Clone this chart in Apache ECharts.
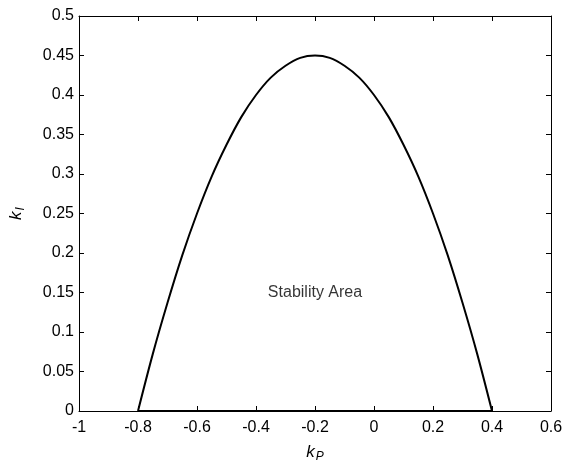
<!DOCTYPE html>
<html>
<head>
<meta charset="utf-8">
<script src="https://cdn.jsdelivr.net/npm/echarts@6/dist/echarts.min.js"></script>
<style>
  html, body { margin: 0; padding: 0; background: #fff; }
  #chart { width: 563px; height: 462px; }
</style>
</head>
<body>
<div id="chart"></div>
<script>
// boundary of the stability region
let kP = [-0.8, -0.75, -0.7, -0.65, -0.6, -0.55, -0.5, -0.45, -0.4, -0.35, -0.3, -0.25, -0.2,
          -0.15, -0.1, -0.05, 0, 0.05, 0.1, 0.15, 0.2, 0.25, 0.3, 0.35, 0.4];
let kI = [0, 0.072, 0.137, 0.197, 0.25, 0.297, 0.337, 0.372, 0.4, 0.422, 0.437, 0.447, 0.45,
          0.447, 0.437, 0.422, 0.4, 0.372, 0.337, 0.297, 0.25, 0.197, 0.137, 0.072, 0];
// lower edge along kI = 0
let baseP = [-0.8, 0.4];
let baseI = [0, 0];
let xTicks = [-1, -0.8, -0.6, -0.4, -0.2, 0, 0.2, 0.4, 0.6];
let yTicks = [0, 0.05, 0.1, 0.15, 0.2, 0.25, 0.3, 0.35, 0.4, 0.45, 0.5];
let areaLabel = {x: -0.2, y: 0.15, text: 'Stability Area'};

let font = 'Liberation Sans, Arial, sans-serif';

let myChart = echarts.init(document.getElementById("chart"));
let lineStyleAxis = {color: '#000', width: 1};
let nameRich = {
    k: {fontSize: 17, fontStyle: 'italic', fontFamily: font, color: '#000', lineHeight: 20},
    s: {fontSize: 12, fontStyle: 'italic', fontFamily: font, color: '#000', padding: [10, 0, 0, 1]}
};
let option = {
    backgroundColor: '#fff',
    animation: false,
    grid: {left: 79, right: 12, top: 16, bottom: 51, containLabel: false, outerBoundsMode: 'none'},
    xAxis: [
        {
            type: 'value',
            min: xTicks[0],
            max: xTicks[xTicks.length - 1],
            interval: 0.2,
            splitLine: {show: false},
            axisLine: {onZero: false, lineStyle: lineStyleAxis},
            axisTick: {inside: true, length: 5, lineStyle: lineStyleAxis},
            axisLabel: {color: '#000', fontSize: 16, fontFamily: font, margin: 9},
            name: '{k|k}{s|P}',
            nameLocation: 'middle',
            nameGap: 30,
            nameTextStyle: {rich: nameRich}
        },
        {
            type: 'value',
            position: 'top',
            min: xTicks[0],
            max: xTicks[xTicks.length - 1],
            interval: 0.2,
            splitLine: {show: false},
            axisLine: {onZero: false, lineStyle: lineStyleAxis},
            axisTick: {inside: true, length: 5, lineStyle: lineStyleAxis},
            axisLabel: {show: false}
        }
    ],
    yAxis: [
        {
            type: 'value',
            min: yTicks[0],
            max: yTicks[yTicks.length - 1],
            interval: 0.05,
            splitLine: {show: false},
            axisLine: {onZero: false, lineStyle: lineStyleAxis},
            axisTick: {inside: true, length: 5, lineStyle: lineStyleAxis},
            axisLabel: {color: '#000', fontSize: 16, fontFamily: font, margin: 5},
            name: '{k|k}{s|I}',
            nameLocation: 'middle',
            nameRotate: 90,
            nameGap: 52,
            nameTextStyle: {rich: nameRich}
        },
        {
            type: 'value',
            position: 'right',
            min: yTicks[0],
            max: yTicks[yTicks.length - 1],
            interval: 0.05,
            splitLine: {show: false},
            axisLine: {onZero: false, lineStyle: lineStyleAxis},
            axisTick: {inside: true, length: 5, lineStyle: lineStyleAxis},
            axisLabel: {show: false}
        }
    ],
    series: [
        {
            type: 'line',
            data: kP.map((p, i) => [p, kI[i]]),
            smooth: 0.3,
            symbol: 'none',
            lineStyle: {color: '#000', width: 2}
        },
        {
            type: 'line',
            data: baseP.map((p, i) => [p, baseI[i]]),
            symbol: 'none',
            lineStyle: {color: '#000', width: 2}
        },
        {
            type: 'scatter',
            data: [[areaLabel.x, areaLabel.y]],
            symbolSize: 0,
            silent: true,
            label: {
                show: true,
                position: 'inside',
                formatter: areaLabel.text,
                color: '#000',
                textBorderWidth: 0,
                textBorderColor: 'transparent',
                fontSize: 16,
                fontFamily: font
            }
        }
    ]
};
myChart.setOption(option);
</script>
</body>
</html>
